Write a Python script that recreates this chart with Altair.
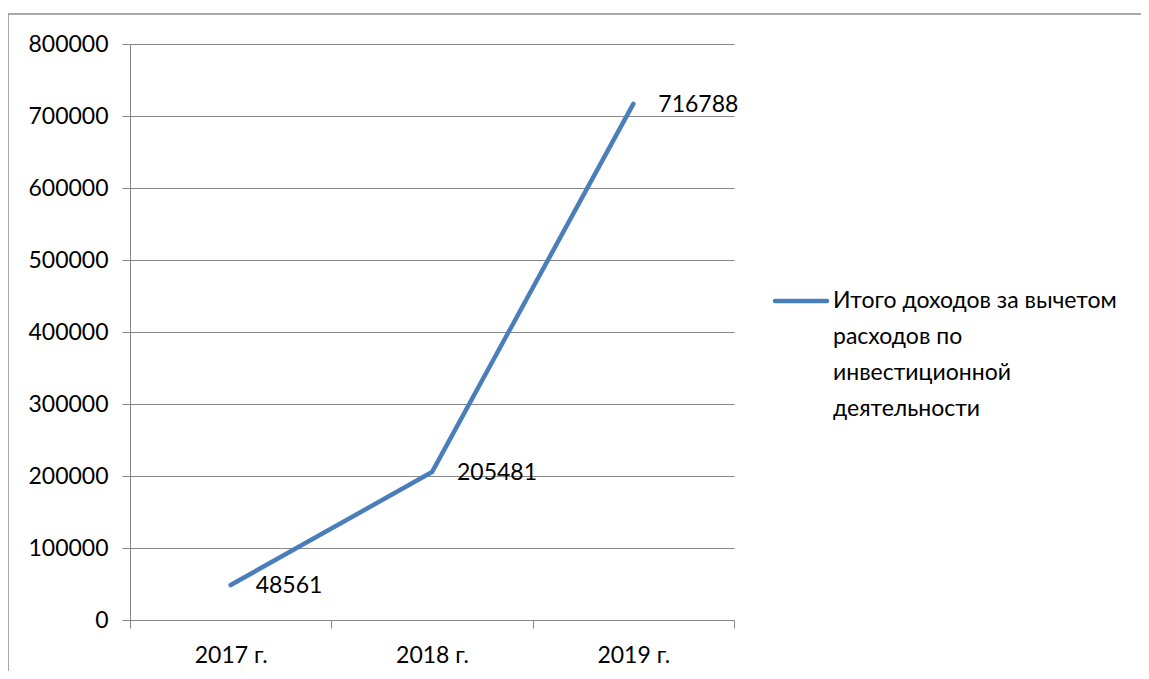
import altair as alt
import pandas as pd

years = ["2017 г.", "2018 г.", "2019 г."]
values = [48561, 205481, 716788]
series_name = "Итого доходов за вычетом расходов по инвестиционной деятельности"
legend_lines = ["Итого доходов за вычетом", "расходов по", "инвестиционной", "деятельности"]
y_ticks = [0, 100000, 200000, 300000, 400000, 500000, 600000, 700000, 800000]

FONT = "Lato"
FS = 23
GRAY = "#868686"
BLUE = "#4a7ebb"
W, H = 604, 576
PAD = {"left": 122, "top": 36, "right": 407, "bottom": 51}

df = pd.DataFrame({"year": years, "value": values, "series": series_name})

x = alt.X("year:N", sort=years,
          scale=alt.Scale(paddingInner=0, paddingOuter=0),
          axis=alt.Axis(title=None, tickBand="extent", grid=False,
                        domainColor=GRAY, tickColor=GRAY, tickSize=8,
                        labelFont=FONT, labelFontSize=FS, labelColor="#000000",
                        labelPadding=16, labelAngle=0))
y = alt.Y("value:Q", scale=alt.Scale(domain=[0, 800000], nice=False),
          axis=alt.Axis(title=None, values=y_ticks, format="d", grid=True,
                        gridColor=GRAY, domainColor=GRAY, tickColor=GRAY,
                        tickSize=8, labelFont=FONT, labelFontSize=FS,
                        labelColor="#000000", labelPadding=14))

base = alt.Chart(df)

line = base.mark_line(color=BLUE, strokeWidth=4.5, strokeCap="round",
                      strokeJoin="round").encode(x=x, y=y)
labels = base.mark_text(align="left", baseline="middle", dx=25, dy=1,
                        font=FONT, fontSize=FS, color="#000000").encode(
    x=alt.X("year:N", sort=years), y="value:Q", text=alt.Text("value:Q", format="d"))

leg_df = pd.DataFrame({"series": [series_name]})
leg_sym = alt.Chart(leg_df).mark_rule(color=BLUE, strokeWidth=4.5, strokeCap="round").encode(
    x=alt.value(645), x2=alt.value(697), y=alt.value(257))
leg_txt = alt.Chart(leg_df).mark_text(align="left", baseline="middle", font=FONT,
                                      fontSize=FS, lineHeight=36, color="#000000").encode(
    x=alt.value(703), y=alt.value(257), text=alt.value(legend_lines))

border_top = alt.Chart(leg_df).mark_rule(color="#8c8c8c", strokeWidth=1.5).encode(
    x=alt.value(-122), x2=alt.value(W + PAD["right"]), y=alt.value(-30))
border_left = alt.Chart(leg_df).mark_rule(color="#8c8c8c", strokeWidth=1.5).encode(
    x=alt.value(-122), y=alt.value(-30), y2=alt.value(H + PAD["bottom"]))

chart = alt.layer(line, labels, leg_sym, leg_txt, border_top, border_left).properties(
    width=W, height=H, padding=PAD, autosize=alt.AutoSizeParams(type="none"),
    background="#ffffff"
).configure_view(strokeWidth=0)

chart.save("out.html", embed_options={"renderer": "svg", "actions": False})
